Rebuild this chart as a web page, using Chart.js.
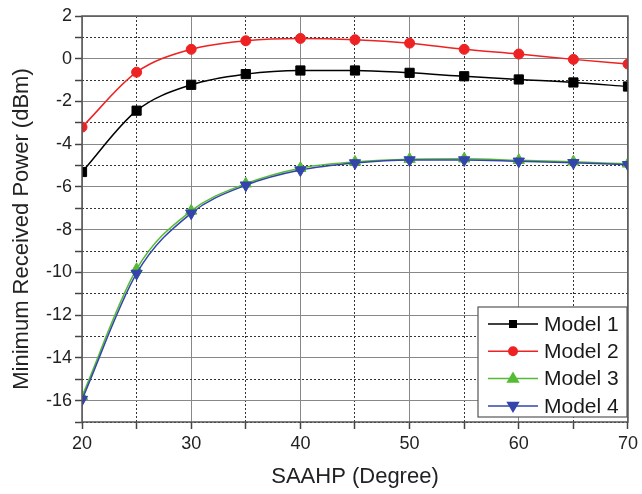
<!DOCTYPE html>
<html lang="en">
<head>
<meta charset="UTF-8">
<title>Minimum Received Power vs SAAHP</title>
<script src="https://cdn.jsdelivr.net/npm/chart.js"></script>
<style>
  html, body { margin: 0; padding: 0; background: #fff; }
  #wrap { width: 642px; height: 494px; }
</style>
</head>
<body>
<div id="wrap"><canvas id="powerChart"></canvas></div>
<script>
// SAAHP angles (degree)
const angles = [20, 25, 30, 35, 40, 45, 50, 55, 60, 65, 70];
// minimum received power (dBm)
const model1 = [-5.3, -2.43, -1.22, -0.72, -0.55, -0.55, -0.66, -0.82, -0.97, -1.11, -1.3];
const model2 = [-3.2, -0.63, 0.44, 0.84, 0.95, 0.89, 0.73, 0.44, 0.22, -0.03, -0.25];
const model3 = [-15.8, -9.85, -7.12, -5.85, -5.12, -4.83, -4.7, -4.68, -4.75, -4.82, -4.92];
const model4 = [-15.95, -10.05, -7.23, -5.92, -5.21, -4.88, -4.74, -4.74, -4.8, -4.87, -4.96];
const xTickLabels = [20, 30, 40, 50, 60, 70];
const yTickLabels = [2, 0, -2, -4, -6, -8, -10, -12, -14, -16];
const yTitle = 'Minimum Received Power (dBm)';

const FONT = '"Liberation Sans", Arial, sans-serif';
const pts = vals => angles.map((a, i) => ({ x: a, y: vals[i] }));

function series(label, vals, color, style, radius, rotation, order) {
    return {
        label: label,
        data: pts(vals),
        borderColor: color,
        backgroundColor: color,
        borderWidth: 1.5,
        pointStyle: style,
        pointRadius: radius,
        pointRotation: rotation,
        pointBorderWidth: 1,
        tension: 0.4,
        cubicInterpolationMode: 'monotone',
        order: order
    };
}

function drawMarker(ctx, style, x, y, r, color) {
    ctx.fillStyle = color;
    ctx.beginPath();
    if (style === 'circle') {
        ctx.arc(x, y, r, 0, Math.PI * 2);
    } else if (style === 'rect') {
        ctx.rect(x - r, y - r, r * 2, r * 2);
    } else {
        const dir = style === 'tri-down' ? -1 : 1;
        ctx.moveTo(x, y - dir * r);
        ctx.lineTo(x + r * 0.95, y + dir * r * 0.6);
        ctx.lineTo(x - r * 0.95, y + dir * r * 0.6);
        ctx.closePath();
    }
    ctx.fill();
}

// frame around the plot, y title (sits a bit below centre in the original), boxed legend
const framePlugin = {
    id: 'frameAndLegend',
    afterDraw(chart) {
        const { ctx, chartArea: a } = chart;
        ctx.save();
        ctx.strokeStyle = '#555';
        ctx.lineWidth = 1.5;
        ctx.strokeRect(a.left, a.top, a.right - a.left, a.bottom - a.top);

        ctx.save();
        ctx.translate(22, 229);
        ctx.rotate(-Math.PI / 2);
        ctx.font = '22px ' + FONT;
        ctx.fillStyle = '#222';
        ctx.textAlign = 'center';
        ctx.textBaseline = 'middle';
        ctx.fillText(yTitle, 0, 0);
        ctx.restore();

        const bx = 478, by = 307, bw = 149, bh = 110;
        ctx.fillStyle = '#fff';
        ctx.fillRect(bx, by, bw, bh);
        ctx.strokeStyle = '#555';
        ctx.lineWidth = 1.2;
        ctx.strokeRect(bx, by, bw, bh);

        const styles = ['rect', 'circle', 'tri-up', 'tri-down'];
        const radii = [4, 5, 7, 7];
        ctx.font = '21px ' + FONT;
        ctx.textBaseline = 'middle';
        chart.data.datasets.forEach((ds, i) => {
            const y = by + 17 + i * 27.3;
            ctx.strokeStyle = ds.borderColor;
            ctx.lineWidth = 1.5;
            ctx.beginPath();
            ctx.moveTo(bx + 10, y);
            ctx.lineTo(bx + 60, y);
            ctx.stroke();
            drawMarker(ctx, styles[i], bx + 35, y, radii[i], ds.borderColor);
            ctx.fillStyle = '#1a1a1a';
            ctx.fillText(ds.label, bx + 66, y + 1);
        });
        ctx.restore();
    }
};

const isMajorX = v => v % 10 === 0;
const isMajorY = v => v % 2 === 0;

new Chart(document.getElementById('powerChart'), {
    type: 'line',
    data: {
        datasets: [
            series('Model 1', model1, '#000000', 'rect', 6.5, 0, 1),
            series('Model 2', model2, '#ee2222', 'circle', 5, 0, 1),
            series('Model 3', model3, '#55bb33', 'triangle', 6.5, 0, 1),
            series('Model 4', model4, '#3344aa', 'triangle', 6.5, 180, 0)
        ]
    },
    options: {
        responsive: true,
        maintainAspectRatio: false,
        animation: false,
        layout: { padding: { top: 16, right: 12, left: 0, bottom: 0 } },
        plugins: {
            legend: { display: false },
            tooltip: { enabled: false }
        },
        scales: {
            x: {
                type: 'linear',
                min: 20,
                max: 70,
                afterFit: s => { s.height = 72; },
                ticks: {
                    stepSize: 5,
                    autoSkip: false,
                    maxRotation: 0,
                    padding: 4,
                    color: '#222',
                    font: { family: FONT, size: 18 },
                    callback: v => xTickLabels.includes(v) ? String(v) : ''
                },
                grid: {
                    color: c => c.tick && isMajorX(c.tick.value) ? '#888' : '#333',
                    lineWidth: 1,
                    tickColor: '#444',
                    tickLength: 7,
                    tickWidth: 1.5
                },
                border: {
                    display: false,
                    dash: c => c.tick && isMajorX(c.tick.value) ? [] : [2, 2]
                },
                title: {
                    display: true,
                    text: 'SAAHP (Degree)',
                    color: '#222',
                    padding: 4,
                    font: { family: FONT, size: 22 }
                }
            },
            y: {
                min: -17,
                max: 2,
                afterFit: s => { s.width = 82; },
                ticks: {
                    stepSize: 1,
                    autoSkip: false,
                    padding: 3,
                    color: '#222',
                    font: { family: FONT, size: 18 },
                    callback: v => yTickLabels.includes(v) ? String(v) : ''
                },
                grid: {
                    color: c => c.tick && isMajorY(c.tick.value) ? '#888' : '#333',
                    lineWidth: 1,
                    tickColor: '#444',
                    tickLength: 7,
                    tickWidth: 1.5
                },
                border: {
                    display: false,
                    dash: c => c.tick && isMajorY(c.tick.value) ? [] : [2, 2]
                },
                title: { display: false }
            }
        }
    },
    plugins: [framePlugin]
});
</script>
</body>
</html>
